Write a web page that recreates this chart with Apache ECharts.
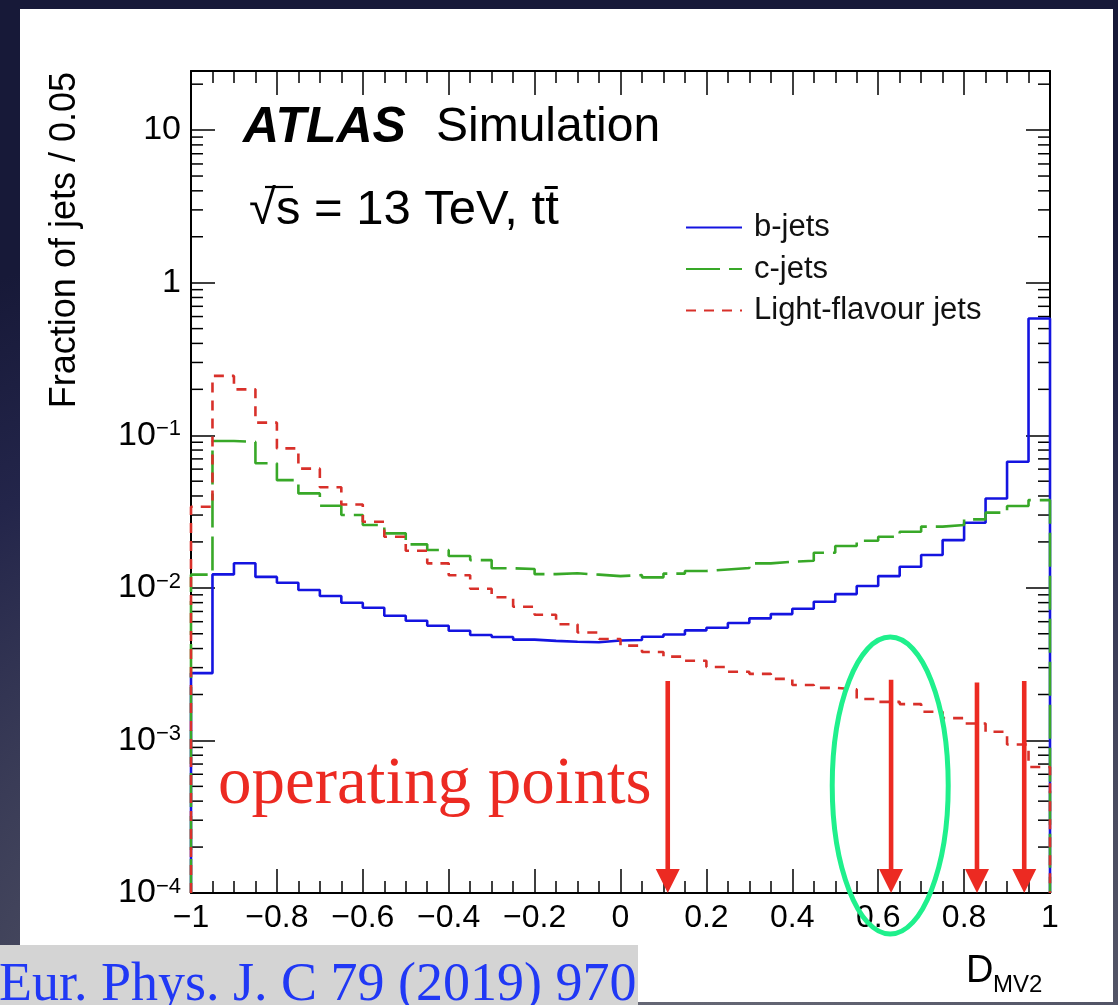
<!DOCTYPE html>
<html><head><meta charset="utf-8">
<script src="https://cdn.jsdelivr.net/npm/echarts@6/dist/echarts.min.js"></script>
<style>
html,body{margin:0;padding:0;width:1118px;height:1005px;overflow:hidden;}
body{background: radial-gradient(ellipse 120% 95% at 60% 110%, #6c6e7a 0%, #4a4c60 45%, #23254a 80%, #171938 100%);}
#panel{position:absolute;left:20px;top:9px;width:1093px;height:993px;background:#fff;}
#chart{position:absolute;left:0;top:0;width:1118px;height:1005px;}
</style></head>
<body><div id="panel"></div><div id="chart"></div>
<script>
// ---- data ----
const binLow = -1, binWidth = 0.05, nBins = 40;
const bJets = [0.00276, 0.01225, 0.0145, 0.0118, 0.0108, 0.00967, 0.00884, 0.00798, 0.00741, 0.00657,
               0.00608, 0.00565, 0.00523, 0.00491, 0.00476, 0.00458, 0.00449, 0.00443, 0.00440, 0.00452,
               0.00455, 0.00478, 0.00495, 0.00526, 0.00548, 0.00588, 0.00631, 0.00673, 0.00729, 0.00811,
               0.0091, 0.01028, 0.01194, 0.01374, 0.0164, 0.02056, 0.02673, 0.03855, 0.067, 0.583];
const cJets = [0.0122, 0.0917, 0.0905, 0.0655, 0.0508, 0.0416, 0.0345, 0.0300, 0.0258, 0.02276,
               0.01928, 0.0177, 0.01616, 0.0152, 0.01343, 0.01328, 0.0123, 0.01245, 0.0122, 0.01194,
               0.01213, 0.01172, 0.0124, 0.0129, 0.0132, 0.0135, 0.01447, 0.01483, 0.01506, 0.01698,
               0.01879, 0.02037, 0.02163, 0.02333, 0.0252, 0.0258, 0.0281, 0.0311, 0.0344, 0.0376];
const lightJets = [0.034, 0.245, 0.200, 0.121, 0.082, 0.0604, 0.0456, 0.0352, 0.0271, 0.0216,
                   0.0175, 0.01447, 0.01208, 0.00986, 0.00867, 0.00752, 0.00667, 0.00577, 0.0051, 0.00462,
                   0.00418, 0.0038, 0.00354, 0.00333, 0.00303, 0.00282, 0.00273, 0.00253, 0.00231, 0.00221,
                   0.00216, 0.00187, 0.00179, 0.00173, 0.00154, 0.0014, 0.00129, 0.00114, 0.00094, 0.00067];
const seriesNames = ['b-jets', 'c-jets', 'Light-flavour jets'];
const xTickLabels = ['\u22121', '\u22120.8', '\u22120.6', '\u22120.4', '\u22120.2', '0', '0.2', '0.4', '0.6', '0.8', '1'];
const yTickValues = [1e-4, 1e-3, 1e-2, 1e-1, 1, 10];
const yTickBase = ['10', '10', '10', '10', '1', '10'];
const yTickExp  = ['\u22124', '\u22123', '\u22122', '\u22121', '', ''];
const yDecades = [1e-4, 1e-3, 1e-2, 1e-1, 1, 10];
const yMinorMult = [2, 3, 4, 5, 6, 7, 8, 9];
const opPoints = [0.11, 0.63, 0.83, 0.94];
const opArrowTop = [0.00245, 0.0025, 0.0024, 0.00245];
const ellipseCenter = [0.628, 5.06e-4];

const Y_MIN = 1e-4, Y_MAX = 24.4;
const SANS = '"Liberation Sans", Arial, Helvetica, sans-serif';
const SERIF = '"Liberation Serif", "Times New Roman", serif';

const binEdges = Array.from({length: nBins + 1}, (_, i) => +(binLow + binWidth * i).toFixed(2));
function stepPoints(vals) {
  const pts = [[binEdges[0], Y_MIN]];
  vals.forEach((v, i) => { pts.push([binEdges[i], v]); pts.push([binEdges[i + 1], v]); });
  pts.push([binEdges[nBins], Y_MIN]);
  return pts;
}
const yMinorTicks = [];
yDecades.forEach(d => yMinorMult.forEach(m => { const v = +(m * d).toPrecision(3); if (v < Y_MAX) yMinorTicks.push([-1, v]); }));

const chart = echarts.init(document.getElementById('chart'), null, {renderer: 'canvas'});
const AXL = {color: '#000', width: 2};
const TK = {color: '#000', width: 1.5};

function xAxisDef(pos, labels) {
  return {
    type: 'value', min: -1, max: 1, interval: 0.2, position: pos,
    axisLine: {show: true, onZero: false, lineStyle: AXL},
    axisTick: {show: true, inside: true, length: 24, lineStyle: TK},
    minorTick: {show: true, splitNumber: 4, length: 12, lineStyle: TK},
    splitLine: {show: false}, minorSplitLine: {show: false},
    axisLabel: labels ? {
      show: true, margin: 9, color: '#000', fontFamily: SANS, fontSize: 32,
      formatter: v => xTickLabels[Math.round((v + 1) / 0.2)]
    } : {show: false}
  };
}
function yAxisDef(pos, labels) {
  return {
    type: 'log', logBase: 10, min: Y_MIN, max: Y_MAX, position: pos,
    axisLine: {show: true, onZero: false, lineStyle: AXL},
    axisTick: {show: true, inside: true, length: 24, lineStyle: TK},
    splitLine: {show: false}, minorTick: {show: false},
    axisLabel: labels ? {
      show: true, margin: 10, color: '#000',
      formatter: v => {
        const i = yTickValues.findIndex(t => Math.abs(Math.log10(v) - Math.log10(t)) < 1e-6);
        if (i < 0) return '';
        return yTickExp[i] ? '{n|' + yTickBase[i] + '}{e|' + yTickExp[i] + '}' : '{m|' + yTickBase[i] + '}';
      },
      rich: {
        n: {fontFamily: SANS, fontSize: 34, color: '#000', verticalAlign: 'bottom', padding: [12, 0, 0, 0], lineHeight: 34},
        e: {fontFamily: SANS, fontSize: 22, color: '#000', verticalAlign: 'top', lineHeight: 22},
        m: {fontFamily: SANS, fontSize: 34, color: '#000'}
      }
    } : {show: false}
  };
}

const RED = '#ec2a22';
const colors = ['#1414e0', '#38a828', '#d8302a'];
const dashes = ['solid', [34, 9], [10, 8]];
const allVals = [bJets, cJets, lightJets];

const TXT = (x, y, text, font, fill, align, extra) => Object.assign({
  type: 'text', x: x, y: y,
  style: {text: text, font: font, fill: fill || '#000', textAlign: align || 'left', align: align || 'left',
          textVerticalAlign: 'middle', verticalAlign: 'middle'}
}, extra || {});

const option = {
  backgroundColor: 'transparent',
  animation: false,
  grid: {left: 191, top: 71, right: 68, bottom: 112, show: false},
  xAxis: [xAxisDef('bottom', true), xAxisDef('top', false)],
  yAxis: [yAxisDef('left', true), yAxisDef('right', false)],
  legend: {
    orient: 'vertical', left: 685, top: 211, padding: 0, itemWidth: 56, itemHeight: 14, itemGap: 8.5,
    data: seriesNames, selectedMode: false,
    itemStyle: {opacity: 0, borderWidth: 0},
    textStyle: {fontFamily: SANS, fontSize: 31, color: '#111', lineHeight: 33, padding: [0, 0, 0, 7]}
  },
  series: [
    ...allVals.map((vals, k) => ({
      name: seriesNames[k], type: 'line', data: stepPoints(vals), symbol: 'none', showSymbol: false,
      xAxisIndex: 0, yAxisIndex: 0, z: 3 + k,
      lineStyle: {color: colors[k], width: 2.6, type: dashes[k]}, itemStyle: {color: colors[k]}
    })),
    {
      type: 'custom', xAxisIndex: 0, yAxisIndex: 0, data: yMinorTicks, silent: true, clip: false, z: 2,
      renderItem: (p, api) => {
        const l = api.coord([-1, api.value(1)]);
        const r = api.coord([1, api.value(1)]);
        return {type: 'group', children: [
          {type: 'line', shape: {x1: l[0], y1: l[1], x2: l[0] + 12, y2: l[1]}, style: {stroke: '#000', lineWidth: 1.5}},
          {type: 'line', shape: {x1: r[0], y1: r[1], x2: r[0] - 12, y2: r[1]}, style: {stroke: '#000', lineWidth: 1.5}}
        ]};
      }
    },
    {
      type: 'custom', xAxisIndex: 0, yAxisIndex: 0, silent: true, clip: false, z: 10,
      data: opPoints.map((x, i) => [x, opArrowTop[i]]),
      renderItem: (p, api) => {
        const t = api.coord([api.value(0), api.value(1)]);
        const b = api.coord([api.value(0), Y_MIN]);
        const hh = 24, hw = 24;
        return {type: 'group', children: [
          {type: 'rect', shape: {x: t[0] - 2.3, y: t[1], width: 4.6, height: b[1] - hh - t[1] + 1}, style: {fill: RED}},
          {type: 'polygon', shape: {points: [[t[0] - hw / 2, b[1] - hh], [t[0] + hw / 2, b[1] - hh], [t[0], b[1]]]}, style: {fill: RED}}
        ]};
      }
    },
    {
      type: 'custom', xAxisIndex: 0, yAxisIndex: 0, silent: true, clip: false, z: 11,
      data: [ellipseCenter],
      renderItem: (p, api) => {
        const c = api.coord([api.value(0), api.value(1)]);
        return {type: 'ellipse', shape: {cx: c[0], cy: c[1], rx: 58, ry: 148.5},
                style: {fill: 'none', stroke: '#1ff08c', lineWidth: 5}};
      }
    }
  ],
  graphic: [
    TXT(243, 128, 'ATLAS', 'italic bold 50px ' + SANS),
    TXT(436, 128, 'Simulation', '48px ' + SANS),
    TXT(249, 210, '\u221As = 13 TeV, tt\u0304', '49px ' + SANS),
    {type: 'line', shape: {x1: 265, y1: 187, x2: 293, y2: 187}, style: {stroke: '#000', lineWidth: 2.2}},
    TXT(65, 72, 'Fraction of jets / 0.05', '36px ' + SANS, '#000', 'right', {rotation: Math.PI / 2}),
    TXT(966, 972, 'D', '38px ' + SANS),
    TXT(993, 985, 'MV2', '24px ' + SANS),
    TXT(218, 785, 'operating points', '67px ' + SERIF, RED, 'left', {z: 20}),
    {type: 'rect', x: 0, y: 945, shape: {x: 0, y: 0, width: 638, height: 60}, style: {fill: '#d4d4d4'}},
    TXT(-1, 986, 'Eur. Phys. J. C 79 (2019) 970', '54px ' + SERIF, '#2038f5')
  ]
};
chart.setOption(option);
</script></body></html>
